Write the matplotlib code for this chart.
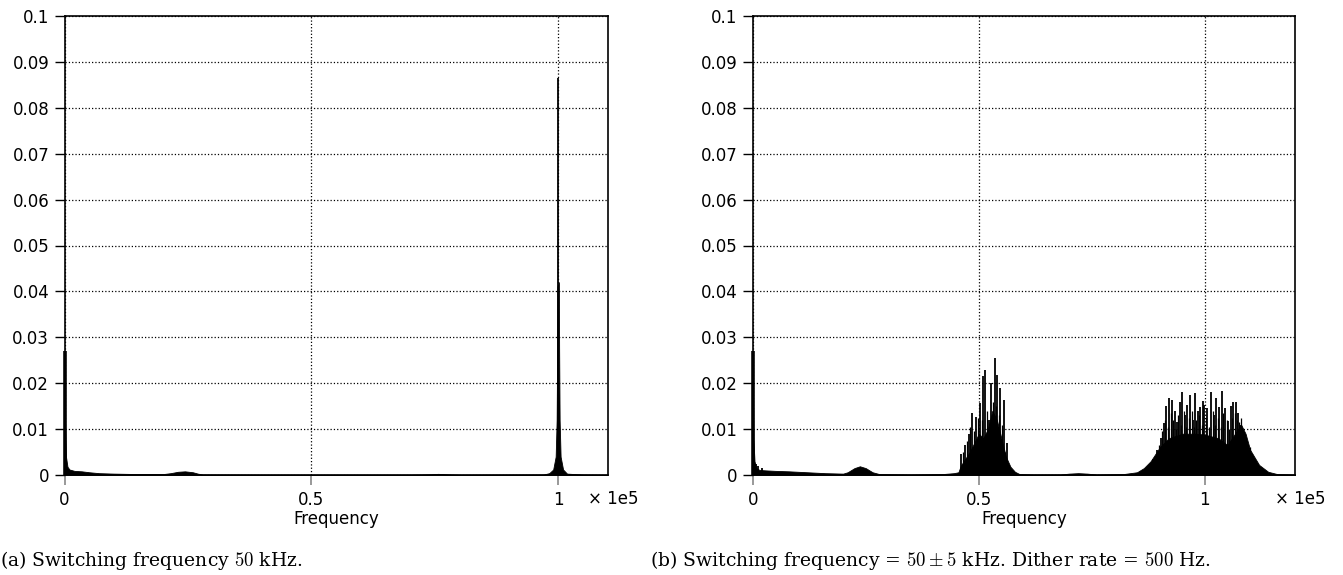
import numpy as np
import matplotlib
matplotlib.use('Agg')
import matplotlib.pyplot as plt
from matplotlib.ticker import FuncFormatter

# ---- data (frequencies in kHz, amplitudes) ----
# (a) fixed 50 kHz switching
a_env_khz = [0, 0.1, 0.3, 0.6, 1.0, 2.0, 3.5, 5.0, 7.0, 10, 15, 20, 21.5, 23, 24.4, 26, 27, 28,
             40, 70, 74, 75.7, 77.5, 80, 97, 98.2, 99, 99.5, 99.7, 99.8, 99.85,
             100.15, 100.2, 100.3, 100.5, 101, 101.8, 105, 110]
a_env_amp = [0.027, 0.012, 0.004, 0.0018, 0.0012, 0.0009, 0.0008, 0.0006, 0.0004, 0.0003, 0.0002,
             0.0002, 0.0004, 0.0007, 0.0008, 0.0006, 0.0003, 0.0001,
             0.00005, 0.00005, 0.00015, 0.00025, 0.00015, 0.00005, 0.0001, 0.0004, 0.0012, 0.004,
             0.012, 0.028, 0.041, 0.042, 0.028, 0.012, 0.004, 0.0012, 0.0003, 0.0001, 0.00005]
a_spike_khz = [0.0, 100.0]
a_spike_amp = [0.027, 0.0865]

# (b) 50 +/- 5 kHz, dither 500 Hz
b_env_khz = [0, 0.15, 0.4, 0.8, 1.5, 3, 5, 8, 12, 16, 20, 21, 22.5, 23.7, 25, 26.5, 28, 35, 42,
             44.5, 45.5, 46, 47, 48, 49, 50, 51, 52, 53, 54, 55, 56, 57, 58, 59, 62,
             68, 70, 72, 74, 76, 82, 85, 86.5, 88, 89, 90, 92, 95, 98, 100, 103, 105, 106,
             108, 109, 110, 112, 114, 116, 120]
b_env_amp = [0.027, 0.008, 0.003, 0.0015, 0.0011, 0.001, 0.0009, 0.0008, 0.0006, 0.0004, 0.0003,
             0.0006, 0.0015, 0.0019, 0.0015, 0.0006, 0.0002, 0.0001, 0.0002,
             0.0004, 0.0006, 0.002, 0.0035, 0.005, 0.007, 0.009, 0.008, 0.010, 0.014, 0.012,
             0.008, 0.004, 0.0018, 0.0007, 0.0002, 0.0001,
             0.0001, 0.0003, 0.0004, 0.0003, 0.0001, 0.0002, 0.0006, 0.0015, 0.003, 0.0045,
             0.006, 0.008, 0.009, 0.009, 0.0088, 0.008, 0.0065, 0.008, 0.011, 0.009, 0.0055,
             0.0022, 0.0007, 0.0002, 0.0001]
b_spike_khz = [0.0, 0.3, 0.7, 1.2, 2.0,
               46.0, 47.0, 47.8, 48.5, 49.4, 50.3, 51.0, 51.4, 52.2, 52.7, 53.5, 54.0, 54.7,
               55.5, 56.2,
               88.5, 89.5, 90.2, 90.9, 91.5, 92.0, 92.7, 93.3, 93.8, 94.4, 95.0, 95.6,
               96.1, 96.8, 97.4, 97.9, 98.4, 99.0, 99.5, 99.8, 100.5, 101.3, 102.0, 102.5,
               103.1, 103.8, 104.4, 105.1, 105.7, 106.3, 106.8, 107.3, 107.8, 108.5, 109.4,
               110.9]
b_spike_amp = [0.027, 0.003, 0.0025, 0.002, 0.0016,
               0.0045, 0.0065, 0.009, 0.0134, 0.0127, 0.0156, 0.0215, 0.0229, 0.0119, 0.0200,
               0.0254, 0.0218, 0.0190, 0.0163, 0.0070,
               0.0035, 0.0054, 0.0080, 0.0113, 0.0150, 0.0167, 0.0163, 0.0140, 0.0115, 0.0160,
               0.0181, 0.0130,
               0.0152, 0.0175, 0.0120, 0.0178, 0.0140, 0.0149, 0.0162, 0.0152, 0.0145, 0.0181,
               0.0130, 0.0167,
               0.0149, 0.0183, 0.0145, 0.0117, 0.0150, 0.0160, 0.0159, 0.0135, 0.0110, 0.0087,
               0.0055,
               0.0030]
# weaker lines filling the gaps between the main sidebands
b_minor_khz = [46.5, 47.4, 48.1, 48.9, 49.8, 50.7, 51.8, 53.1, 53.8, 54.4, 55.1, 55.9,
               89.0, 89.8, 90.6, 91.2, 91.8, 92.4, 93.0, 93.6, 94.1, 94.7, 95.3, 95.9, 96.5,
               97.1, 97.6, 98.1, 98.7, 99.3, 100.2, 100.9, 101.7, 102.3, 102.8, 103.5, 104.1,
               104.8, 105.4, 106.0, 106.6, 107.0, 107.6, 108.1, 108.9, 109.9, 110.4]
b_minor_amp = [0.0050, 0.0075, 0.0105, 0.0095, 0.0125, 0.0120, 0.0140, 0.0160, 0.0150,
               0.0130, 0.0110, 0.0050,
               0.0040, 0.0065, 0.0095, 0.0120, 0.0105, 0.0135, 0.0120, 0.0100, 0.0130,
               0.0110, 0.0140, 0.0105, 0.0125, 0.0140, 0.0105, 0.0120, 0.0130, 0.0110,
               0.0125, 0.0105, 0.0140, 0.0110, 0.0125, 0.0105, 0.0135, 0.0120, 0.0100,
               0.0125, 0.0135, 0.0120, 0.0115, 0.0125, 0.0090, 0.0060, 0.0045]

captions = ['(a) Switching frequency $50$ kHz.',
            '(b) Switching frequency = $50 \\pm 5$ kHz. Dither rate = $500$ Hz.']
caption_x = [0, 650]
xmax_khz = [110, 120]

plt.rcParams['mathtext.fontset'] = 'cm'

fig = plt.figure(figsize=(13.43, 5.75), dpi=100, facecolor='white')
W, H = 1343.0, 575.0
boxes = [(64.5, 607.5), (752.7, 1295.3)]
datasets = [(a_env_khz, a_env_amp, a_spike_khz, a_spike_amp, [], []),
            (b_env_khz, b_env_amp, b_spike_khz, b_spike_amp, b_minor_khz, b_minor_amp)]

for i, (x0, x1) in enumerate(boxes):
    ax = fig.add_axes([x0 / W, 1 - 475 / H, (x1 - x0) / W, (475 - 16) / H])
    env_x, env_y, sp_x, sp_y, mn_x, mn_y = datasets[i]
    ax.fill_between(np.array(env_x) * 1e3, 0, env_y, color='black', lw=0.6, zorder=3)
    ax.vlines(np.array(sp_x[:1]) * 1e3, 0, sp_y[:1], color='black', lw=2.6, zorder=3,
              clip_on=False)
    ax.vlines(np.array(sp_x[1:]) * 1e3, 0, sp_y[1:], color='black', lw=1.3, zorder=3)
    if mn_x:
        ax.vlines(np.array(mn_x) * 1e3, 0, mn_y, color='black', lw=0.9, zorder=3)
    ax.set_xlim(0, xmax_khz[i] * 1e3)
    ax.set_ylim(0, 0.1)
    ax.set_xticks([0, 0.5e5, 1e5])
    ax.set_yticks(np.arange(0, 0.1001, 0.01))
    ax.xaxis.set_major_formatter(FuncFormatter(lambda v, p: '%g' % (v / 1e5)))
    ax.yaxis.set_major_formatter(FuncFormatter(lambda v, p: '%g' % round(v, 2)))
    ax.grid(True, linestyle=':', color='black', lw=0.9)
    ax.set_axisbelow(True)
    ax.tick_params(axis='y', direction='out', length=7, width=1, labelsize=12, pad=4)
    ax.tick_params(axis='x', direction='out', length=7.2, width=1.2, color='#888888',
                   labelsize=12, pad=4)
    for s in ax.spines.values():
        s.set_linewidth(1.2)
    ax.set_xlabel('Frequency', fontsize=12, labelpad=1)
    ax.annotate('\u00d7 1e5', xy=(1, 0), xycoords='axes fraction',
                xytext=(-20, -29), textcoords='offset pixels', ha='left', va='baseline',
                fontsize=12)
    fig.text(caption_x[i] / W, 1 - 566 / H, captions[i], fontsize=13.5,
             family='DejaVu Serif', va='baseline', ha='left')

fig.savefig('out.png', dpi=100)
